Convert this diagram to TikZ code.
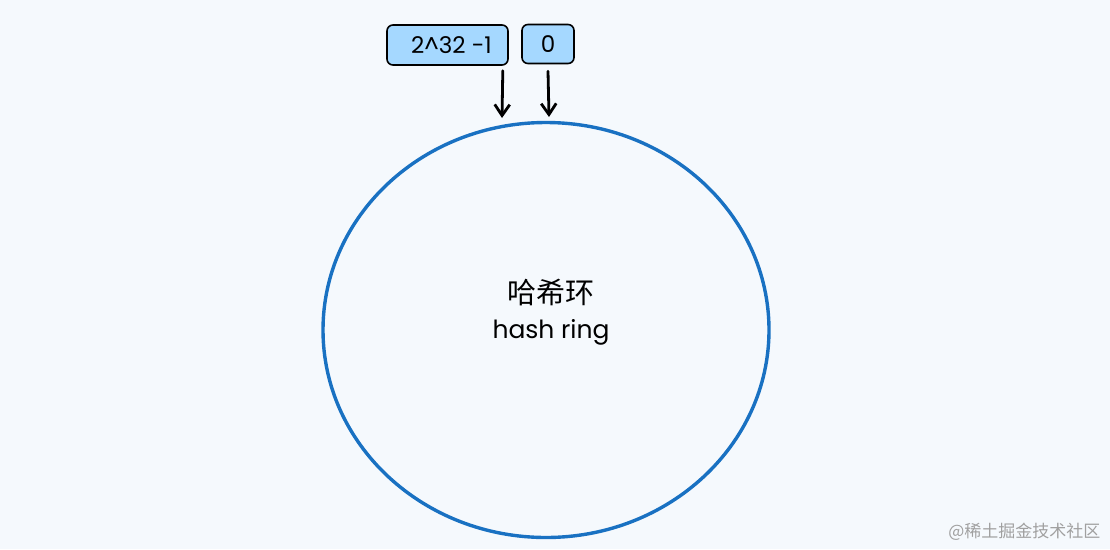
\documentclass[tikz,border=0pt]{standalone}
\usepackage{fontspec}
\setmainfont{Poppins}
\newfontfamily\cjk{Noto Sans CJK SC}
\usetikzlibrary{shapes.geometric,arrows.meta}
\definecolor{paper}{HTML}{F5F9FD}
\definecolor{ringblue}{HTML}{1971C2}
\definecolor{boxblue}{HTML}{A5D8FF}
\definecolor{marktext}{HTML}{A0A0A0}
\tikzset{
  valuebox/.style={rectangle, draw=black, fill=boxblue, line width=1.6pt, rounded corners=6pt, inner sep=0pt, font=\fontsize{23}{27}\selectfont},
  pointer/.style={-{Straight Barb[length=11pt,width=15pt]}, line width=2.8pt, line cap=round},
}
\begin{document}
\begin{tikzpicture}[x=1pt, y=-1pt]
    \useasboundingbox[fill=paper] (0,0) rectangle (1110,549);
    \node (ring) [ellipse, draw=ringblue, line width=3.4pt, minimum width=446pt, minimum height=415pt] at (546,330) {};
    \node (maxval) [valuebox, minimum width=121pt, minimum height=40pt] at (447.5,45) {\hspace{8pt}2\textasciicircum 32 -1};
    \node (zero) [valuebox, minimum width=52pt, minimum height=39pt] at (548,44) {0};
    \node (title) at (551,292) {\cjk\fontsize{29}{34}\selectfont 哈希环};
    \node (subtitle) at (551,332) {\fontsize{25}{30}\selectfont hash ring};
    \node (mark) [anchor=east, text=marktext] at (1104,532) {\cjk\fontsize{17}{20}\selectfont @稀土掘金技术社区};

    \coordinate (maxend) at (502,118);
    \coordinate (zeroend) at (549,117);
    \draw[pointer] ([xshift=-6pt,yshift=-5pt]maxval.south east) -- (maxend);
    \draw[pointer] ([yshift=-7pt]zero.south) -- (zeroend);
\end{tikzpicture}
\end{document}
